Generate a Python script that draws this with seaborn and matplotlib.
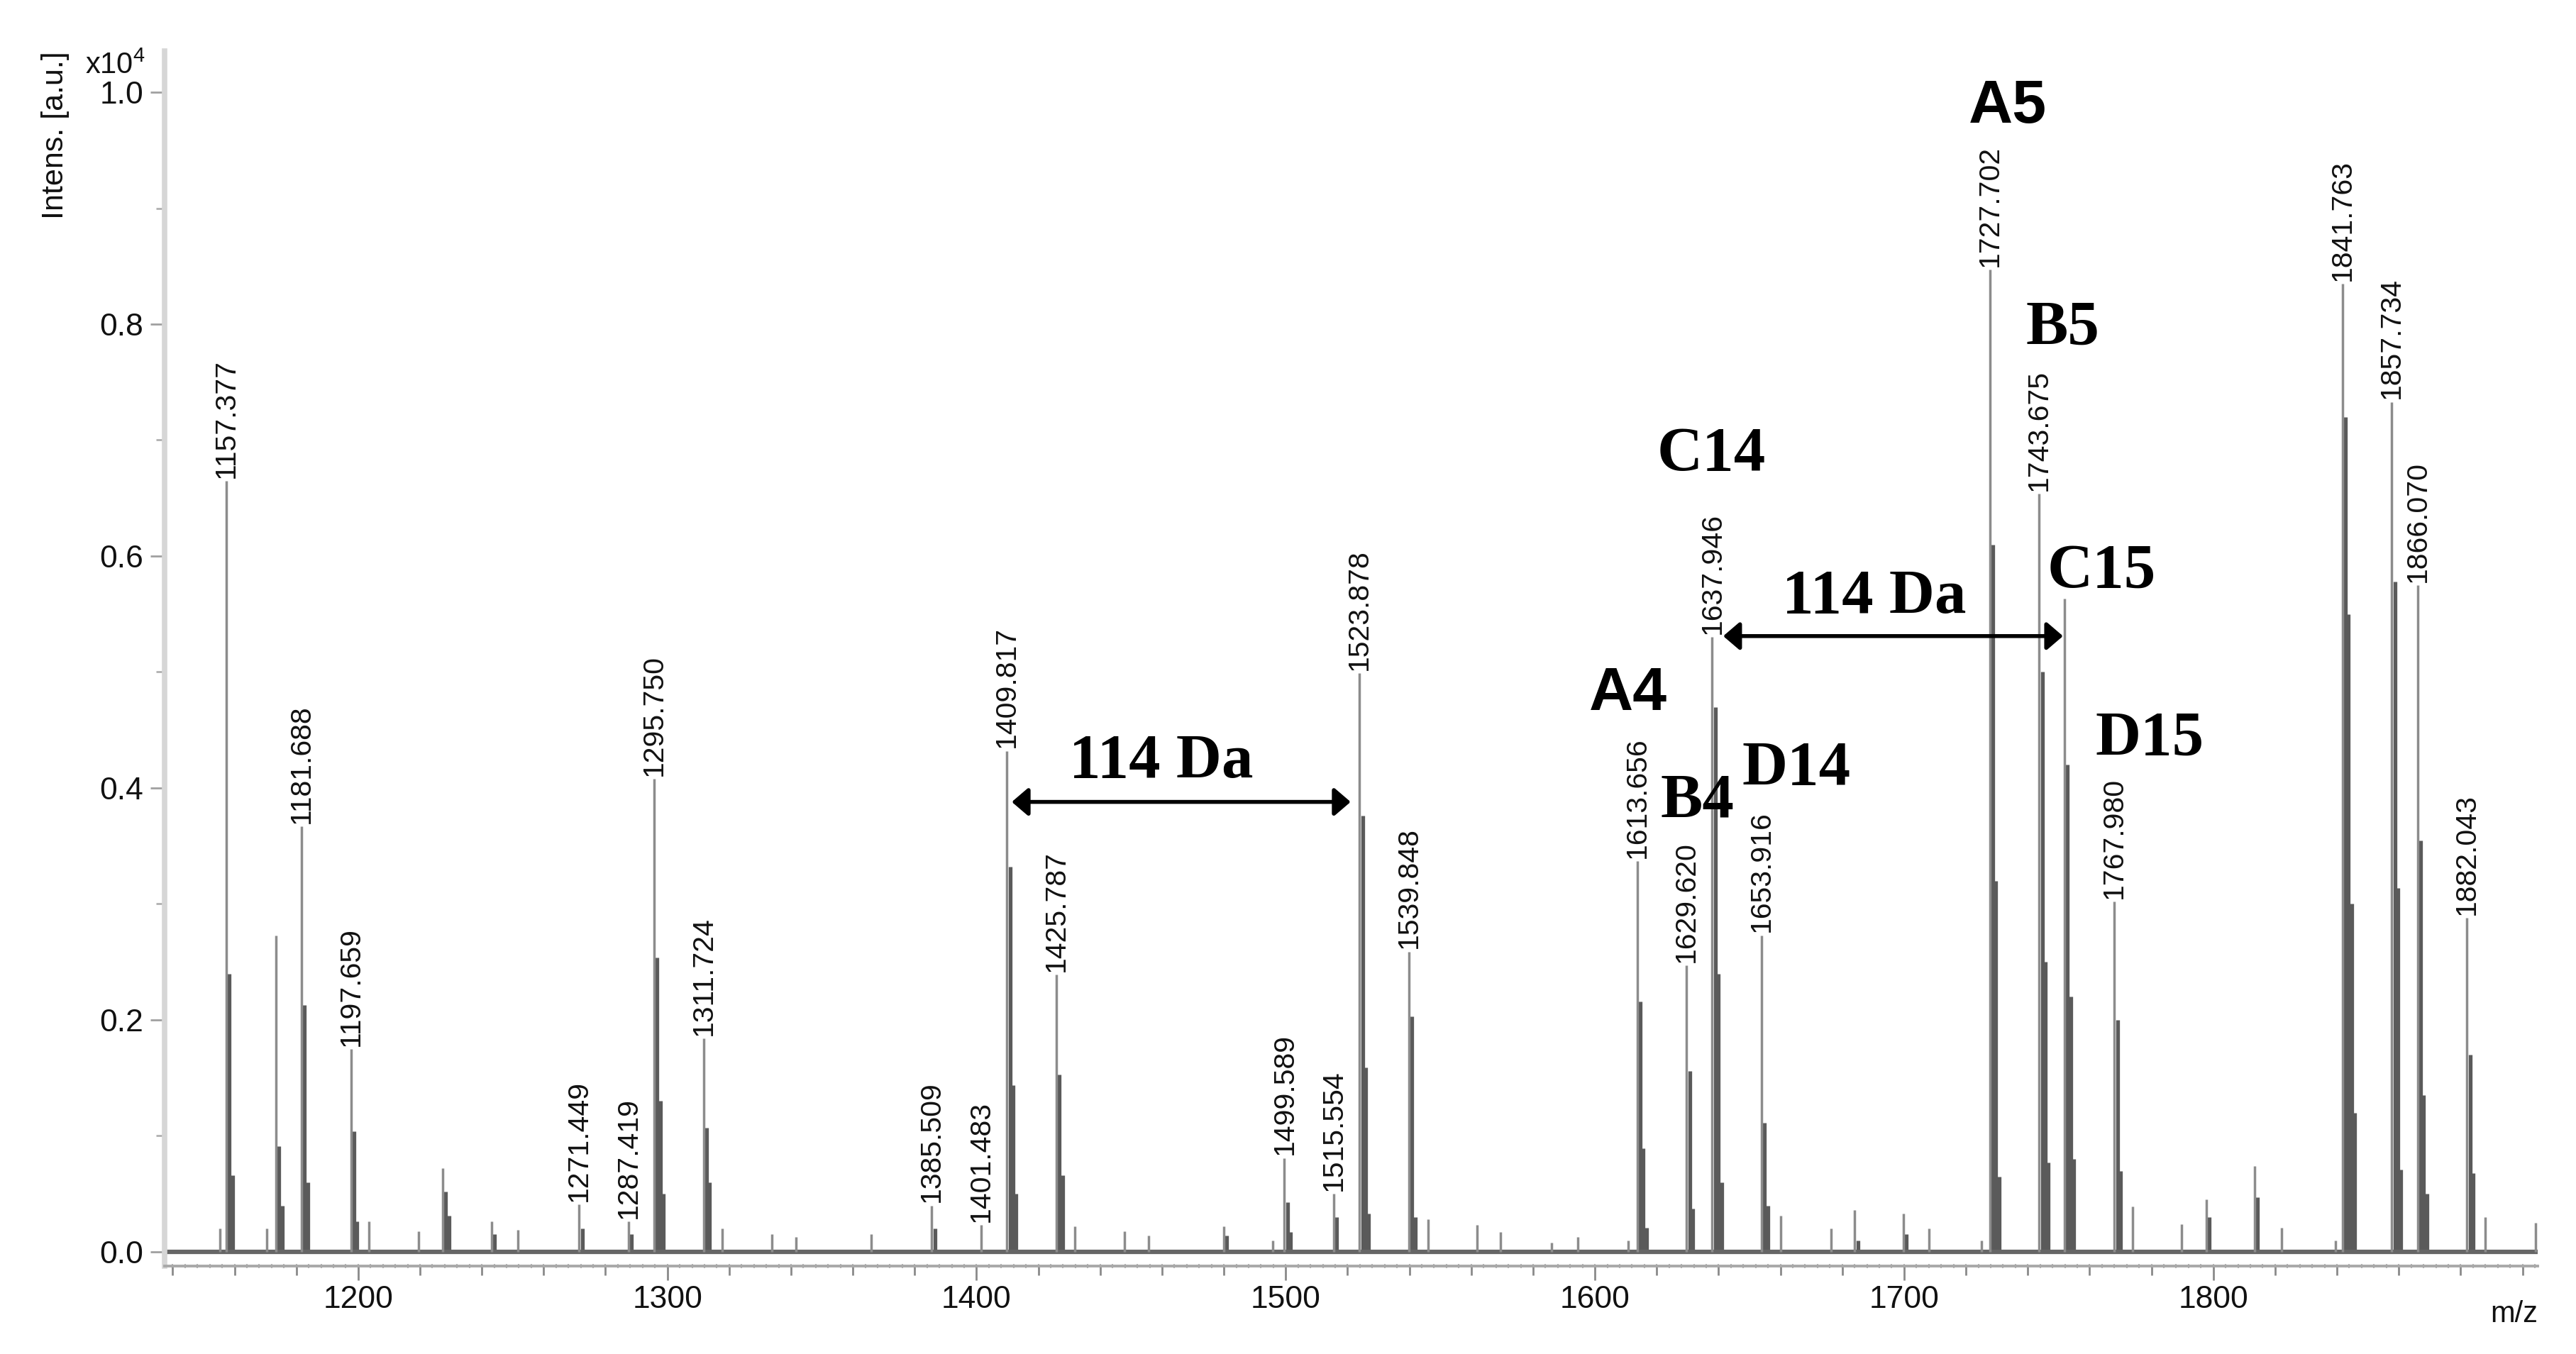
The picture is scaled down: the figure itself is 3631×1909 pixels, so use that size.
import numpy as np
import pandas as pd
import matplotlib
matplotlib.use('Agg')
import matplotlib.pyplot as plt
import seaborn as sns

# peak groups: monoisotopic m/z and isotope intensities (x10^4)
peak_mz = [1155.4, 1157.377, 1170.4, 1173.4, 1181.688, 1197.659, 1203.5, 1219.5,
           1227.3, 1243.1, 1251.6, 1271.449, 1287.419, 1295.750, 1311.724, 1317.7,
           1333.7, 1341.6, 1366.0, 1385.509, 1401.483, 1409.817, 1425.787, 1431.8,
           1447.8, 1455.6, 1480.0, 1495.8, 1499.589, 1515.554, 1523.878, 1539.848,
           1546.0, 1561.9, 1569.4, 1586.0, 1594.4, 1610.8, 1613.656, 1629.620,
           1637.946, 1653.916, 1660.0, 1676.5, 1684.0, 1699.7, 1708.0, 1725.0,
           1727.702, 1743.675, 1751.9, 1767.980, 1774.0, 1789.7, 1797.8, 1813.3,
           1822.0, 1839.5, 1841.763, 1857.734, 1866.070, 1882.043, 1888.0, 1904.3]
peak_int = [[0.02], [0.665, 0.24, 0.066], [0.02], [0.273, 0.091, 0.04],
            [0.367, 0.213, 0.06], [0.175, 0.104, 0.026], [0.026], [0.018],
            [0.072, 0.052, 0.031], [0.026, 0.015], [0.019], [0.041, 0.02],
            [0.026, 0.015], [0.408, 0.254, 0.13, 0.05], [0.184, 0.107, 0.06], [0.02],
            [0.015], [0.013], [0.015], [0.04, 0.02],
            [0.023], [0.432, 0.332, 0.144, 0.05], [0.239, 0.153, 0.066], [0.022],
            [0.018], [0.014], [0.022, 0.014], [0.01], [0.081, 0.043, 0.017],
            [0.05, 0.03], [0.499, 0.376, 0.159, 0.033], [0.259, 0.203, 0.03],
            [0.028], [0.023], [0.017], [0.008], [0.013], [0.01],
            [0.337, 0.216, 0.089, 0.021], [0.247, 0.156, 0.037],
            [0.53, 0.47, 0.24, 0.06], [0.273, 0.111, 0.04], [0.031], [0.02],
            [0.036, 0.01], [0.033, 0.015], [0.02], [0.01],
            [0.847, 0.61, 0.32, 0.065], [0.654, 0.50, 0.25, 0.077],
            [0.563, 0.42, 0.22, 0.08], [0.302, 0.2, 0.07], [0.039], [0.024],
            [0.045, 0.03], [0.074, 0.047], [0.021], [0.01],
            [0.835, 0.72, 0.55, 0.30, 0.12], [0.733, 0.578, 0.314, 0.071],
            [0.575, 0.355, 0.135, 0.05], [0.288, 0.17, 0.068], [0.03], [0.025]]

# peaks carrying an m/z label
label_mz = [1157.377, 1181.688, 1197.659, 1271.449, 1287.419, 1295.750, 1311.724,
            1385.509, 1401.483, 1409.817, 1425.787, 1499.589, 1515.554, 1523.878,
            1539.848, 1613.656, 1629.620, 1637.946, 1653.916, 1727.702, 1743.675,
            1767.980, 1841.763, 1857.734, 1866.070, 1882.043]

ion_names = ['A4', 'B4', 'C14', 'D14', 'A5', 'B5', 'C15', 'D15']
y_ticks = [0.0, 0.2, 0.4, 0.6, 0.8, 1.0]
x_ticks = [1200, 1300, 1400, 1500, 1600, 1700, 1800]

ISO_STEP = 1.0

rows = []
for mz, ints in zip(peak_mz, peak_int):
    for k, h in enumerate(ints):
        rows.append((mz + k * ISO_STEP, h, k))
sticks = pd.DataFrame(rows, columns=['mz', 'intens', 'iso'])
top = dict(zip(peak_mz, [v[0] for v in peak_int]))

sns.set_theme(style='ticks')
plt.rcParams['font.family'] = ['Liberation Sans', 'DejaVu Sans']
plt.rcParams['mathtext.fontset'] = 'custom'
plt.rcParams['mathtext.rm'] = 'Liberation Sans'
plt.rcParams['mathtext.it'] = 'Liberation Sans'

fig = plt.figure(figsize=(36.31, 19.09), dpi=100)
ax = fig.add_axes([0.0639, 0.065, 0.9212, 0.8973])

# spectrum sticks
iso = sticks[sticks['iso'] > 0]
mono = sticks[sticks['iso'] == 0]
ax.vlines(iso['mz'], 0, iso['intens'], color='#5a5a5a', lw=3.8, zorder=2)
ax.vlines(mono['mz'], 0, mono['intens'], color='#8c8c8c', lw=2.5, zorder=3)
ax.axhline(0, color='#666666', lw=4.5, zorder=2)

# m/z labels
for mz in label_mz:
    ax.annotate(f'{mz:.3f}', xy=(mz, top[mz]), xytext=(0, 3), textcoords='offset points',
                rotation=90, ha='center', va='bottom', fontsize=29.5, color='#111111', zorder=4)

# ion labels
ion_pos = {'A4': (1610.8, 0.467), 'B4': (1633.2, 0.375), 'C14': (1637.6, 0.674),
           'D14': (1665.2, 0.403), 'A5': (1733.5, 0.974), 'B5': (1751.3, 0.783),
           'C15': (1763.8, 0.573), 'D15': (1779.4, 0.429)}
for name in ion_names:
    x, y = ion_pos[name]
    if name.startswith('A'):
        ax.text(x, y, name, ha='center', va='baseline', fontsize=62, fontweight='bold',
                family='Liberation Sans', color='black', zorder=5)
    else:
        ax.text(x, y, name, ha='center', va='baseline', fontsize=64, fontweight='bold',
                family='Liberation Serif', color='black', zorder=5)

# 114 Da spacing arrows
for (x0, x1, ya), (xt, yt) in [((1411.4, 1521.0, 0.388), (1459.8, 0.409)),
                               ((1641.5, 1751.4, 0.531), (1690.4, 0.551))]:
    ax.annotate('', xy=(x0, ya), xytext=(x1, ya),
                arrowprops=dict(arrowstyle='<|-|>,head_length=0.35,head_width=0.3',
                                color='black', lw=4, mutation_scale=40, shrinkA=0, shrinkB=0),
                zorder=5)
    ax.text(xt, yt, '114 Da', ha='center', va='baseline', fontsize=64, fontweight='bold',
            family='Liberation Serif', color='black', zorder=5)

ax.set_xlim(1137.4, 1904.9)
ax.set_ylim(-0.0122, 1.0355)

ax.set_xticks(x_ticks)
ax.set_xticks(np.arange(1140, 1905, 20), minor=True)
ax.set_yticks(y_ticks)
ax.set_yticks([0.1, 0.3, 0.5, 0.7, 0.9], minor=True)
ax.yaxis.set_major_formatter('{x:.1f}')

ax.tick_params(axis='x', which='major', length=14.4, width=2, color='#8a8a8a',
               pad=5, labelsize=32, labelcolor='#111111')
ax.tick_params(axis='x', which='minor', length=9.4, width=2, color='#8a8a8a')
ax.tick_params(axis='y', which='major', length=14.4, width=2, color='#a0a0a0',
               pad=7, labelsize=32, labelcolor='#111111')
ax.tick_params(axis='y', which='minor', length=8.6, width=2, color='#b0b0b0')

# fine ticks along the m/z axis
sec = ax.secondary_xaxis('bottom')
sec.set_xticks(np.arange(1140, 1905, 4))
sec.tick_params(length=5, width=1.5, direction='inout', color='#b5b5b5', labelbottom=False)
sec.spines['bottom'].set_visible(False)

sns.despine(ax=ax)
ax.spines['left'].set_color('#d6d6d6')
ax.spines['left'].set_linewidth(5.5)
ax.spines['bottom'].set_color('#a9a9a9')
ax.spines['bottom'].set_linewidth(2.8)

ax.set_ylabel('Intens. [a.u.]', loc='top', fontsize=31, color='#111111')
ax.yaxis.set_label_coords(-0.040, 1.0)
ax.set_xlabel('m/z', loc='right', fontsize=30, color='#111111')
ax.xaxis.set_label_coords(1.0, -0.028)
ax.text(-0.008, 0.976, r'x10$^4$', transform=ax.transAxes, ha='right', va='bottom',
        fontsize=30, color='#111111')

fig.savefig('out.png', dpi=100, facecolor='white')
